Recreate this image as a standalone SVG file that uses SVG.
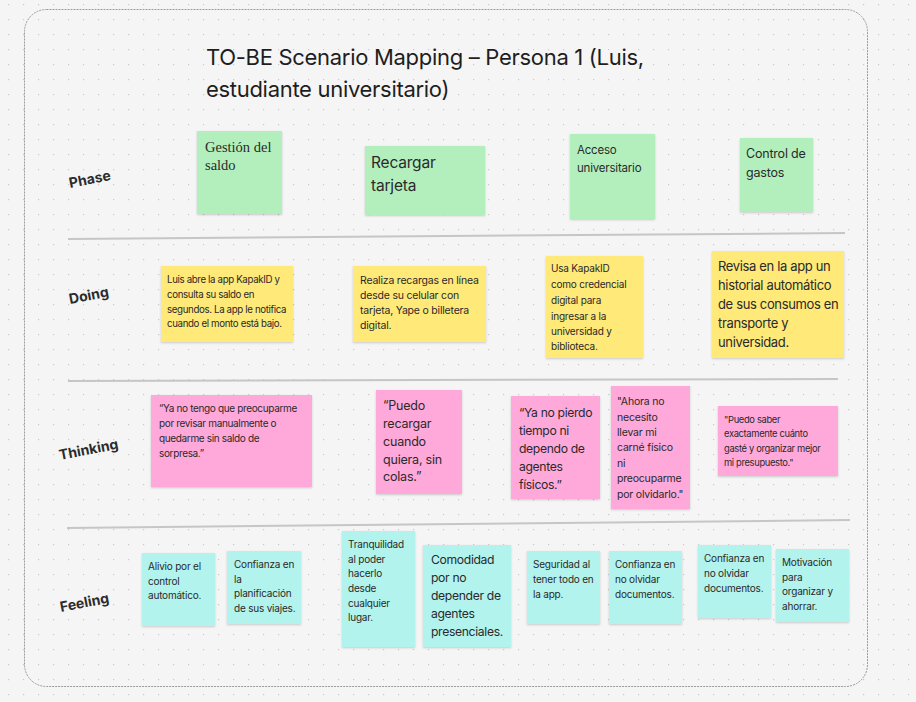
<svg xmlns="http://www.w3.org/2000/svg" width="916" height="702" viewBox="0 0 916 702">
  <defs>
    <pattern id="dots" x="8" y="4" width="15" height="15" patternUnits="userSpaceOnUse">
      <rect x="0" y="0" width="1.2" height="1.2" fill="#c9c9c9"/>
    </pattern>
    <filter id="shadow" x="-10%" y="-10%" width="120%" height="125%">
      <feDropShadow dx="0" dy="1" stdDeviation="1" flood-color="#000" flood-opacity="0.18"/>
    </filter>
    <style>
      .t { font-family: Inter, "Liberation Sans", sans-serif; fill: #2a2a2a; letter-spacing: -0.2px; }
      .tight { letter-spacing: -0.35px; }
      .title { font-family: Inter, "Liberation Sans", sans-serif; fill: #1e1e1e; font-size: 22px; letter-spacing: -0.3px; }
      .lbl { font-family: Inter, "Liberation Sans", sans-serif; fill: #2b2b2b; font-size: 14px; font-weight: 700; }
      .sep { stroke: #c6c6c6; stroke-width: 2; fill: none; }
      .green { fill: #b3efbd; filter: url(#shadow); }
      .yellow { fill: #ffe978; filter: url(#shadow); }
      .pink { fill: #ffa9db; filter: url(#shadow); }
      .cyan { fill: #b3f3ed; filter: url(#shadow); }
    </style>
  </defs>

  <!-- canvas -->
  <rect width="916" height="702" fill="#f5f5f5"/>
  <rect width="916" height="702" fill="url(#dots)"/>
  <rect x="24.5" y="9.5" width="843" height="677" rx="22" fill="none" stroke="#9a9a9a" stroke-width="1" stroke-dasharray="2 1"/>

  <!-- heading -->
  <g id="title">
    <text class="title" x="206" y="65">TO-BE Scenario Mapping – Persona 1 (Luis,</text>
    <text class="title" x="206" y="97">estudiante universitario)</text>
  </g>

  <!-- row labels -->
  <g id="row-labels">
    <text class="lbl" transform="translate(70 188) rotate(-11)">Phase</text>
    <text class="lbl" transform="translate(70 304) rotate(-11)">Doing</text>
    <text class="lbl" transform="translate(60 460) rotate(-11)">Thinking</text>
    <text class="lbl" transform="translate(61 612) rotate(-11)">Feeling</text>
  </g>

  <!-- row separators -->
  <g id="connectors">
    <line class="sep" x1="68" y1="239" x2="845" y2="233"/>
    <line class="sep" x1="68" y1="381" x2="838" y2="379"/>
    <line class="sep" x1="67" y1="528" x2="850" y2="520"/>
  </g>

  <!-- Phase -->
  <g id="phase-1">
    <rect class="green" x="197" y="131" width="85" height="83"/>
    <text font-family="'Liberation Serif', serif" font-size="14.5" fill="#2a2a2a" x="205"><tspan x="205" y="152">Gestión del</tspan><tspan x="205" y="170">saldo</tspan></text>
  </g>
  <g id="phase-2">
    <rect class="green" x="365" y="146" width="120" height="69"/>
    <text class="t" font-size="15.5"><tspan x="371" y="168">Recargar</tspan><tspan x="371" y="191">tarjeta</tspan></text>
  </g>
  <g id="phase-3">
    <rect class="green" x="570" y="134" width="85" height="85"/>
    <text class="t" font-size="11.5"><tspan x="577" y="154">Acceso</tspan><tspan x="577" y="172">universitario</tspan></text>
  </g>
  <g id="phase-4">
    <rect class="green" x="740" y="138" width="73" height="74"/>
    <text class="t" font-size="12.5"><tspan x="746" y="158">Control de</tspan><tspan x="746" y="177">gastos</tspan></text>
  </g>

  <!-- Doing -->
  <g id="doing-1">
    <rect class="yellow" x="161" y="266" width="132" height="76"/>
    <text class="t tight" font-size="9.7"><tspan x="167" y="283">Luis abre la app KapakID y</tspan><tspan x="167" y="298">consulta su saldo en</tspan><tspan x="167" y="313">segundos. La app le notifica</tspan><tspan x="167" y="327">cuando el monto está bajo.</tspan></text>
  </g>
  <g id="doing-2">
    <rect class="yellow" x="353" y="266" width="133" height="76"/>
    <text class="t" font-size="10.5"><tspan x="360" y="284">Realiza recargas en línea</tspan><tspan x="360" y="299">desde su celular con</tspan><tspan x="360" y="314">tarjeta, Yape o billetera</tspan><tspan x="360" y="329">digital.</tspan></text>
  </g>
  <g id="doing-3">
    <rect class="yellow" x="546" y="256" width="97" height="102"/>
    <text class="t" font-size="10"><tspan x="551" y="272">Usa KapakID</tspan><tspan x="551" y="288">como credencial</tspan><tspan x="551" y="304">digital para</tspan><tspan x="551" y="320">ingresar a la</tspan><tspan x="551" y="335">universidad y</tspan><tspan x="551" y="350">biblioteca.</tspan></text>
  </g>
  <g id="doing-4">
    <rect class="yellow" x="712" y="251" width="132" height="107"/>
    <text class="t tight" font-size="13"><tspan x="718" y="271">Revisa en la app un</tspan><tspan x="718" y="290">historial automático</tspan><tspan x="718" y="309">de sus consumos en</tspan><tspan x="718" y="328">transporte y</tspan><tspan x="718" y="347">universidad.</tspan></text>
  </g>

  <!-- Thinking -->
  <g id="thinking-1">
    <rect class="pink" x="151" y="395" width="161" height="92"/>
    <text class="t tight" font-size="10"><tspan x="159" y="412">“Ya no tengo que preocuparme</tspan><tspan x="159" y="427">por revisar manualmente o</tspan><tspan x="159" y="442">quedarme sin saldo de</tspan><tspan x="159" y="457">sorpresa.”</tspan></text>
  </g>
  <g id="thinking-2">
    <rect class="pink" x="376" y="390" width="86" height="104"/>
    <text class="t" font-size="12.5"><tspan x="383" y="410">“Puedo</tspan><tspan x="383" y="428">recargar</tspan><tspan x="383" y="446">cuando</tspan><tspan x="383" y="464">quiera, sin</tspan><tspan x="383" y="481">colas.”</tspan></text>
  </g>
  <g id="thinking-3">
    <rect class="pink" x="511" y="396" width="89" height="103"/>
    <text class="t tight" font-size="12.2"><tspan x="519" y="417">“Ya no pierdo</tspan><tspan x="519" y="435">tiempo ni</tspan><tspan x="519" y="453">dependo de</tspan><tspan x="519" y="471">agentes</tspan><tspan x="519" y="489">físicos.”</tspan></text>
  </g>
  <g id="thinking-4">
    <rect class="pink" x="611" y="386" width="79" height="123"/>
    <text class="t" font-size="10.5"><tspan x="617" y="405">"Ahora no</tspan><tspan x="617" y="421">necesito</tspan><tspan x="617" y="436">llevar mi</tspan><tspan x="617" y="451">carné físico</tspan><tspan x="617" y="467">ni</tspan><tspan x="617" y="482">preocuparme</tspan><tspan x="617" y="498">por olvidarlo."</tspan></text>
  </g>
  <g id="thinking-5">
    <rect class="pink" x="718" y="406" width="120" height="70"/>
    <text class="t tight" font-size="9.4"><tspan x="724" y="423">"Puedo saber</tspan><tspan x="724" y="437">exactamente cuánto</tspan><tspan x="724" y="452">gasté y organizar mejor</tspan><tspan x="724" y="466">mi presupuesto."</tspan></text>
  </g>

  <!-- Feeling -->
  <g id="feeling-1">
    <rect class="cyan" x="142" y="553" width="73" height="73"/>
    <text class="t" font-size="10"><tspan x="148" y="570">Alivio por el</tspan><tspan x="148" y="585">control</tspan><tspan x="148" y="599">automático.</tspan></text>
  </g>
  <g id="feeling-2">
    <rect class="cyan" x="227" y="551" width="74" height="73"/>
    <text class="t" font-size="10"><tspan x="234" y="568">Confianza en</tspan><tspan x="234" y="583">la</tspan><tspan x="234" y="597">planificación</tspan><tspan x="234" y="612">de sus viajes.</tspan></text>
  </g>
  <g id="feeling-3">
    <rect class="cyan" x="342" y="531" width="73" height="116"/>
    <text class="t" font-size="10"><tspan x="348" y="548">Tranquilidad</tspan><tspan x="348" y="563">al poder</tspan><tspan x="348" y="577">hacerlo</tspan><tspan x="348" y="592">desde</tspan><tspan x="348" y="607">cualquier</tspan><tspan x="348" y="621">lugar.</tspan></text>
  </g>
  <g id="feeling-4">
    <rect class="cyan" x="423" y="545" width="88" height="102"/>
    <text class="t tight" font-size="12.2"><tspan x="431" y="564">Comodidad</tspan><tspan x="431" y="582">por no</tspan><tspan x="431" y="600">depender de</tspan><tspan x="431" y="618">agentes</tspan><tspan x="431" y="636">presenciales.</tspan></text>
  </g>
  <g id="feeling-5">
    <rect class="cyan" x="527" y="551" width="73" height="73"/>
    <text class="t" font-size="10"><tspan x="533" y="568">Seguridad al</tspan><tspan x="533" y="583">tener todo en</tspan><tspan x="533" y="598">la app.</tspan></text>
  </g>
  <g id="feeling-6">
    <rect class="cyan" x="609" y="551" width="73" height="73"/>
    <text class="t" font-size="10"><tspan x="615" y="568">Confianza en</tspan><tspan x="615" y="583">no olvidar</tspan><tspan x="615" y="598">documentos.</tspan></text>
  </g>
  <g id="feeling-7">
    <rect class="cyan" x="698" y="545" width="73" height="73"/>
    <text class="t" font-size="10"><tspan x="704" y="562">Confianza en</tspan><tspan x="704" y="577">no olvidar</tspan><tspan x="704" y="592">documentos.</tspan></text>
  </g>
  <g id="feeling-8">
    <rect class="cyan" x="776" y="549" width="73" height="73"/>
    <text class="t" font-size="10"><tspan x="782" y="566">Motivación</tspan><tspan x="782" y="581">para</tspan><tspan x="782" y="595">organizar y</tspan><tspan x="782" y="610">ahorrar.</tspan></text>
  </g>
</svg>
